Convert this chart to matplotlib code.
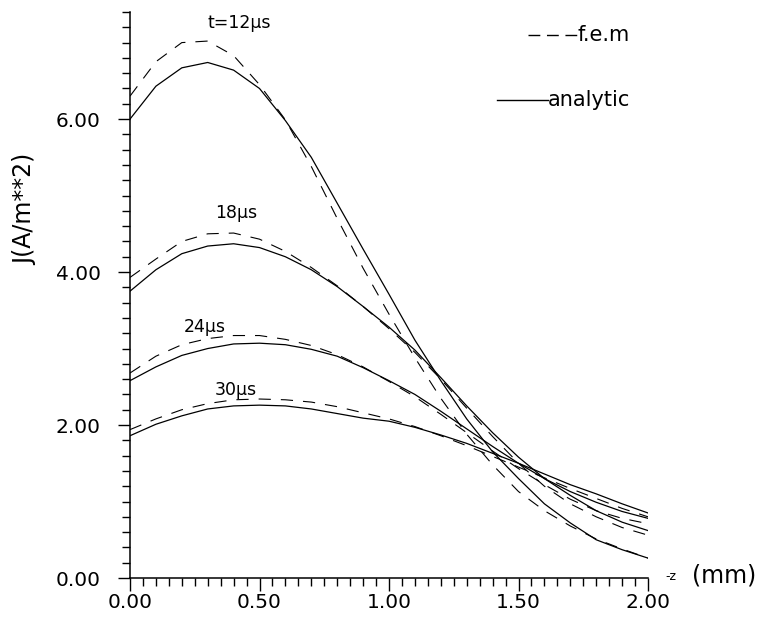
import numpy as np
import matplotlib
matplotlib.use("Agg")
import matplotlib.pyplot as plt
from matplotlib.lines import Line2D
from matplotlib.ticker import MultipleLocator, FormatStrFormatter

# depth below the surface, -z (mm)
z = np.round(np.arange(0.0, 2.01, 0.1), 2)

# current density J (A/m**2): analytic solution
j12_an = [6.00, 6.43, 6.67, 6.74, 6.64, 6.40, 5.98, 5.50, 4.90, 4.30, 3.71,
          3.11, 2.58, 2.08, 1.65, 1.30, 0.97, 0.72, 0.50, 0.37, 0.26]
j18_an = [3.75, 4.03, 4.24, 4.34, 4.37, 4.32, 4.20, 4.03, 3.81, 3.55, 3.28,
          2.98, 2.62, 2.25, 1.90, 1.58, 1.30, 1.08, 0.88, 0.73, 0.62]
j24_an = [2.58, 2.76, 2.91, 3.00, 3.06, 3.07, 3.05, 2.99, 2.90, 2.75, 2.58,
          2.40, 2.18, 1.95, 1.72, 1.50, 1.30, 1.13, 0.99, 0.87, 0.78]
j30_an = [1.86, 2.01, 2.12, 2.21, 2.25, 2.26, 2.25, 2.21, 2.15, 2.09, 2.05,
          1.97, 1.87, 1.76, 1.63, 1.50, 1.36, 1.22, 1.10, 0.97, 0.85]

# finite element results
j12_fem = [6.30, 6.75, 7.00, 7.02, 6.83, 6.45, 5.99, 5.38, 4.70, 4.05, 3.45,
           2.88, 2.35, 1.88, 1.48, 1.13, 0.88, 0.68, 0.51, 0.38, 0.26]
j18_fem = [3.93, 4.17, 4.40, 4.50, 4.51, 4.43, 4.27, 4.06, 3.82, 3.55, 3.26,
           2.95, 2.60, 2.22, 1.85, 1.50, 1.20, 0.97, 0.80, 0.66, 0.56]
j24_fem = [2.68, 2.90, 3.05, 3.13, 3.17, 3.17, 3.12, 3.04, 2.92, 2.76, 2.57,
           2.37, 2.14, 1.90, 1.66, 1.43, 1.22, 1.03, 0.88, 0.78, 0.71]
j30_fem = [1.94, 2.08, 2.20, 2.28, 2.33, 2.34, 2.33, 2.30, 2.24, 2.16, 2.08,
           1.98, 1.86, 1.73, 1.59, 1.45, 1.31, 1.17, 1.04, 0.91, 0.80]

time_labels = ["t=12\u00b5s", "18\u00b5s", "24\u00b5s", "30\u00b5s"]
label_pos = [(0.42, 7.25), (0.41, 4.77), (0.29, 3.28), (0.41, 2.46)]

W, H = 769, 618
fig = plt.figure(figsize=(W / 100, H / 100), dpi=100)
ax = fig.add_axes([130 / W, 1 - 578 / H, 518 / W, 566 / H])

for an, fem in [(j12_an, j12_fem), (j18_an, j18_fem),
                (j24_an, j24_fem), (j30_an, j30_fem)]:
    ax.plot(z, an, color="black", lw=0.9, solid_joinstyle="miter")
    ax.plot(z, fem, color="black", lw=0.8, dashes=(11, 9))

for txt, (xx, yy) in zip(time_labels, label_pos):
    ax.text(xx, yy, txt, fontsize=12.5, ha="center", va="center")

ax.set_xlim(0, 2.0)
ax.set_ylim(0, 7.4)
ax.spines["top"].set_visible(False)
ax.spines["right"].set_visible(False)
for s in ("left", "bottom"):
    ax.spines[s].set_linewidth(1.1)

ax.xaxis.set_major_locator(MultipleLocator(0.5))
ax.xaxis.set_minor_locator(MultipleLocator(0.05))
ax.yaxis.set_major_locator(MultipleLocator(2.0))
ax.yaxis.set_minor_locator(MultipleLocator(0.2))
ax.xaxis.set_major_formatter(FormatStrFormatter("%.2f"))
ax.yaxis.set_major_formatter(FormatStrFormatter("%.2f"))
ax.tick_params(which="major", direction="out", length=9, width=1.0,
               labelsize=14.5)
ax.tick_params(which="minor", direction="out", length=6, width=1.0)
ax.tick_params(axis="y", which="major", pad=12)
ax.tick_params(axis="x", which="major", pad=2)

ax.set_ylabel("J(A/m**2)", fontsize=17)
ax.yaxis.set_label_coords(-0.18, 0.652)
fig.text(665 / W, 1 - 576 / H, "-z", fontsize=9, va="center", ha="left")
fig.text(692 / W, 1 - 575 / H, "(mm)", fontsize=17, va="center", ha="left")

# key drawn by hand in the upper right corner
fig.add_artist(Line2D([528 / W, 577 / W], [1 - 35 / H, 1 - 35 / H],
                      color="black", lw=1.0, dashes=(8.5, 4.8)))
fig.text(578 / W, 1 - 35 / H, "f.e.m", fontsize=15, va="center", ha="left")
fig.add_artist(Line2D([497 / W, 548 / W], [1 - 100 / H, 1 - 100 / H],
                      color="black", lw=1.0))
fig.text(548 / W, 1 - 100 / H, "analytic", fontsize=15, va="center", ha="left")

fig.savefig("out.png", dpi=100)
